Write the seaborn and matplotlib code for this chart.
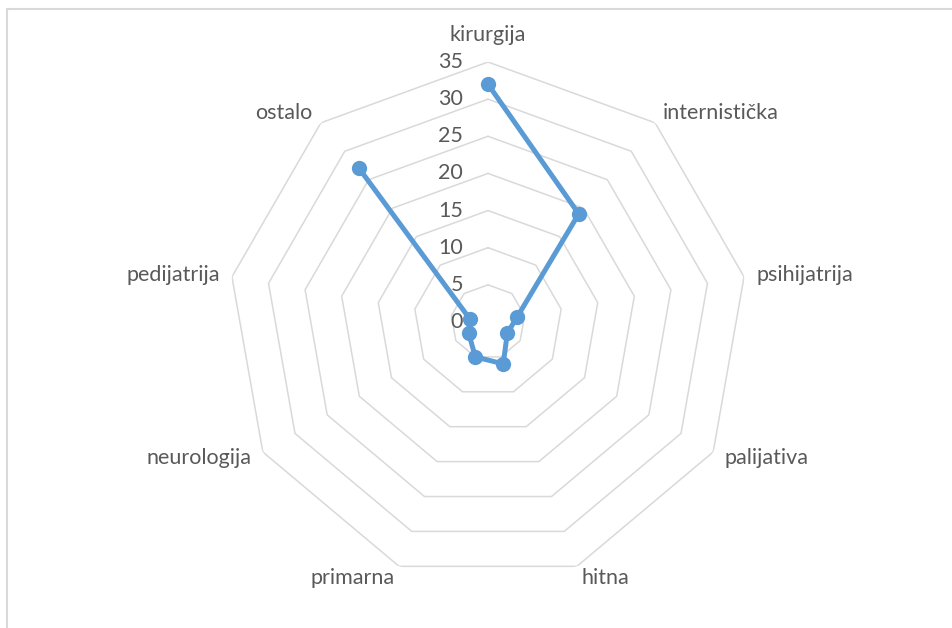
import numpy as np
import matplotlib
matplotlib.use("Agg")
import matplotlib.pyplot as plt
import seaborn as sns
from matplotlib.patches import Rectangle

# data
categories = ["kirurgija", "internistička", "psihijatrija", "palijativa", "hitna",
              "primarna", "neurologija", "pedijatrija", "ostalo"]
values = [32, 19, 4, 3, 6, 5, 3, 2.5, 27]
ring_ticks = [0, 5, 10, 15, 20, 25, 30, 35]

sns.set_style("white")
plt.rcParams['font.family'] = ['Lato', 'DejaVu Sans']

line_color = "#5B9BD5"
grid_color = "#D9D9D9"
text_color = "#595959"
fs = 15.5

fig = plt.figure(figsize=(9.53, 6.28), dpi=100)

# chart border (light gray frame, like the Excel chart area)
fig.patches.append(Rectangle((7 / 953, -0.05), 1.1, 1 - 9 / 628 + 0.05,
                             transform=fig.transFigure, fill=False,
                             edgecolor="#D9D9D9", linewidth=1.5))

cx, cy, rad = 488 / 953, 1 - 322 / 628, 260
ax = fig.add_axes([cx - rad / 953, cy - rad / 628, 2 * rad / 953, 2 * rad / 628],
                  projection="polar")
ax.set_theta_zero_location("N")
ax.set_theta_direction(-1)
ax.set_ylim(0, 35)
ax.grid(False)
ax.set_xticks([])
ax.set_yticks([])
ax.spines["polar"].set_visible(False)
ax.patch.set_alpha(0)

n = len(categories)
angles = np.linspace(0, 2 * np.pi, n, endpoint=False)
angles_closed = np.append(angles, angles[0])

# nonagon grid rings
for r in ring_ticks[1:]:
    ax.plot(angles_closed, [r] * (n + 1), color=grid_color, linewidth=1.1, zorder=1)

# data series
vals_closed = values + values[:1]
sns.lineplot(x=angles_closed, y=vals_closed, ax=ax, sort=False, color=line_color,
             linewidth=3.6, marker="o", markersize=11, markeredgewidth=0, zorder=3)
ax.set_xlabel("")
ax.set_ylabel("")

# radial value labels along the top axis
for r in ring_ticks:
    ax.annotate(str(r), (0, r), xytext=(-18, 0), textcoords="offset points",
                ha="right", va="center", fontsize=fs, color=text_color)

# category labels
for a, name in zip(angles, categories):
    s = np.sin(a)
    if abs(s) < 0.05:
        ax.text(a, 37.3, name, ha="center", va="bottom", fontsize=fs, color=text_color)
    else:
        ha = "left" if s > 0 else "right"
        ax.text(a, 36.7, name, ha=ha, va="center", fontsize=fs, color=text_color)

fig.savefig("out.png", dpi=100)
